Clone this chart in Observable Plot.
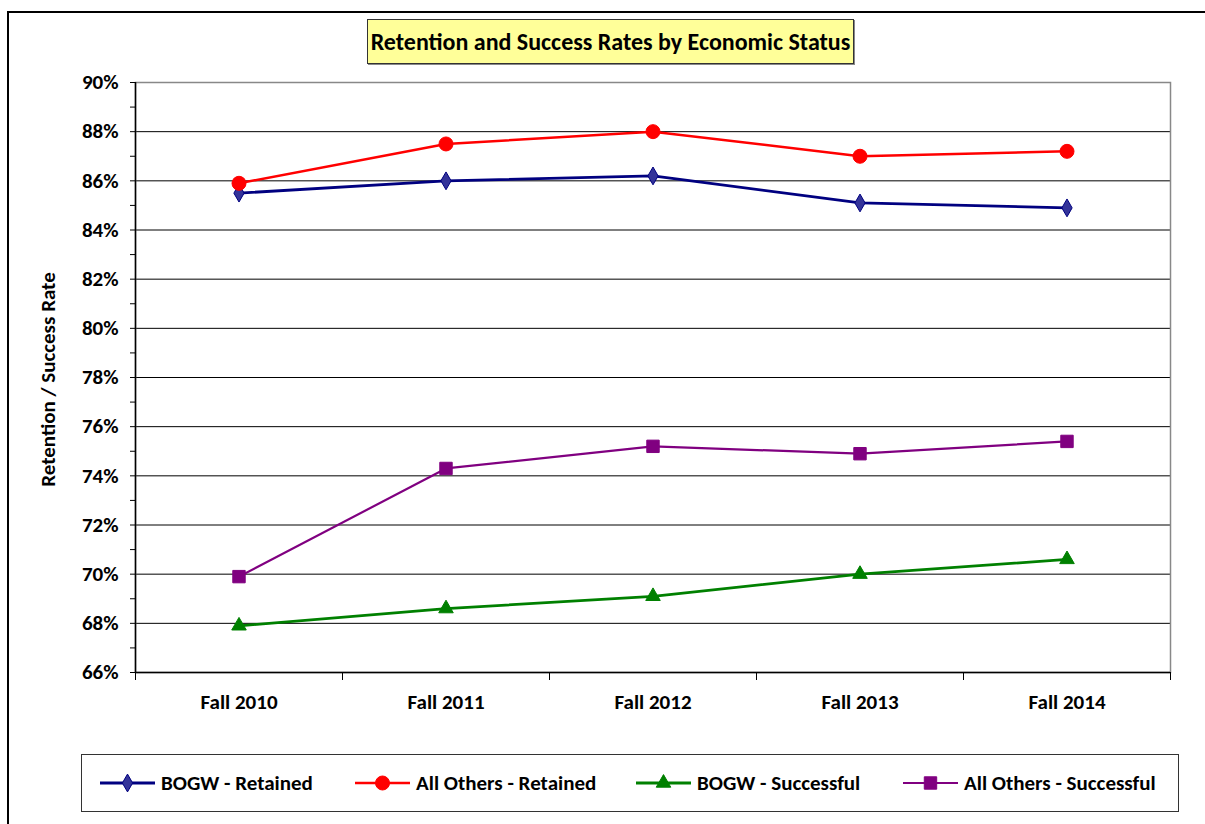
<!DOCTYPE html>
<html>
<head>
<meta charset="utf-8">
<script src="https://cdn.jsdelivr.net/npm/d3@7"></script>
<script src="https://cdn.jsdelivr.net/npm/@observablehq/plot@0.6"></script>
<style>
  html, body { margin: 0; padding: 0; background: #fff; width: 1205px; height: 824px; overflow: hidden; }
  body { position: relative; font-family: Carlito, Calibri, Lato, "Open Sans", sans-serif; }
  #outer { position: absolute; left: 7px; top: 11px; width: 1300px; height: 900px; border: 2.5px solid #000; box-sizing: border-box; }
  #chart { position: absolute; left: 0; top: 0; }
  #title { position: absolute; left: 367px; top: 19px; width: 487px; height: 45px; background: #ffff99; border: 1px solid #333; box-sizing: border-box;
           box-shadow: 1px 1px 0 #888; font-weight: bold; font-size: 24px; display: flex; align-items: center; justify-content: center; color: #000; white-space: nowrap; }
  #legend { position: absolute; left: 81px; top: 754px; width: 1098px; height: 58px; border: 1px solid #333; box-sizing: border-box; background: #fff; }
  .item { position: absolute; top: 0; height: 56px; display: flex; align-items: center; font-weight: bold; font-size: 21px; color: #000; white-space: nowrap; }
  .item svg { margin-right: 6px; }
</style>
</head>
<body>
<div id="outer"></div>
<div id="chart"></div>
<div id="title">Retention and Success Rates by Economic Status</div>
<div id="legend"></div>
<script>
const categories = ["Fall 2010", "Fall 2011", "Fall 2012", "Fall 2013", "Fall 2014"];
const seriesNames = ["BOGW - Retained", "All Others - Retained", "BOGW - Successful", "All Others - Successful"];
const bogwRetained = [85.5, 86.0, 86.2, 85.1, 84.9];
const othersRetained = [85.9, 87.5, 88.0, 87.0, 87.2];
const bogwSuccessful = [67.9, 68.6, 69.1, 70.0, 70.6];
const othersSuccessful = [69.9, 74.3, 75.2, 74.9, 75.4];
const yTicks = [66, 68, 70, 72, 74, 76, 78, 80, 82, 84, 86, 88, 90];

const styles = [
  {values: bogwRetained, stroke: "#000080", fill: "#333399", symbol: "diamond", r: 5.4, width: 2.8},
  {values: othersRetained, stroke: "#ff0000", fill: "#ff0000", symbol: "circle", r: 7, width: 2.5},
  {values: bogwSuccessful, stroke: "#008000", fill: "#008000", symbol: "triangle", r: 5.4, width: 2.8},
  {values: othersSuccessful, stroke: "#800080", fill: "#800080", symbol: "square", r: 7, width: 2.2}
];

const marks = [];
marks.push(Plot.ruleY(yTicks.slice(1).map(v => v / 100), {stroke: "#000", strokeWidth: 1}));
marks.push(Plot.frame({stroke: "#888", strokeWidth: 1.5}));
marks.push(Plot.ruleX([-0.5], {stroke: "#000", strokeWidth: 1.5}));
marks.push(Plot.ruleY([0.66], {stroke: "#000", strokeWidth: 1.5}));
marks.push(Plot.axisY({ticks: yTicks.map(v => v / 100), tickFormat: d => Math.round(d * 100) + "%", tickSize: 5, tickPadding: 12,
  fontSize: 21, fontWeight: "bold", label: null}));
marks.push(Plot.axisY({ticks: yTicks.slice(0, -1).map(v => (v + 1) / 100), tickFormat: () => "", tickSize: 5, label: null}));
marks.push(Plot.axisX({ticks: d3.range(0, categories.length + 1).map(i => i - 0.5), tickFormat: () => "", tickSize: 8, label: null}));
marks.push(Plot.axisX({ticks: d3.range(categories.length), tickFormat: i => categories[i], tickSize: 0, tickPadding: 22,
  fontSize: 21, fontWeight: "bold", label: null}));
marks.push(Plot.text(["Retention / Success Rate"], {frameAnchor: "left", dx: -87, dy: 2, rotate: -90, fontSize: 21, fontWeight: "bold", textAnchor: "middle"}));

styles.forEach((s, k) => {
  const rows = s.values.map((v, i) => ({i, v: v / 100, series: seriesNames[k]}));
  marks.push(Plot.line(rows, {x: "i", y: "v", stroke: s.stroke, strokeWidth: s.width}));
  marks.push(Plot.dot(rows, {x: "i", y: "v", symbol: () => s.symbol, fill: s.fill, stroke: s.stroke, strokeWidth: 1, r: s.r}));
});

const chart = Plot.plot({
  width: 1205,
  height: 824,
  marginLeft: 135,
  marginRight: 35,
  marginTop: 82,
  marginBottom: 152,
  style: {background: "transparent", color: "#000", fontFamily: "Carlito, Calibri, Lato, 'Open Sans', sans-serif"},
  x: {type: "linear", domain: [-0.5, categories.length - 0.5]},
  y: {type: "linear", domain: [0.66, 0.90]},
  symbol: {type: "identity"},
  marks
});
document.getElementById("chart").appendChild(chart);

const legend = document.getElementById("legend");
const lefts = [18, 273, 554, 821];
styles.forEach((s, k) => {
  const item = document.createElement("div");
  item.className = "item";
  item.style.left = lefts[k] + "px";
  const svg = d3.create("svg").attr("width", 55).attr("height", 24);
  svg.append("line").attr("x1", 0).attr("x2", 55).attr("y1", 12).attr("y2", 12).attr("stroke", s.stroke).attr("stroke-width", s.width);
  const sym = {diamond: d3.symbolDiamond, circle: d3.symbolCircle, triangle: d3.symbolTriangle, square: d3.symbolSquare}[s.symbol];
  svg.append("path").attr("transform", "translate(27.5,12)").attr("d", d3.symbol(sym, Math.PI * s.r * s.r)())
    .attr("fill", s.fill).attr("stroke", s.stroke);
  item.appendChild(svg.node());
  const span = document.createElement("span");
  span.textContent = seriesNames[k];
  item.appendChild(span);
  legend.appendChild(item);
});
</script>
</body>
</html>
